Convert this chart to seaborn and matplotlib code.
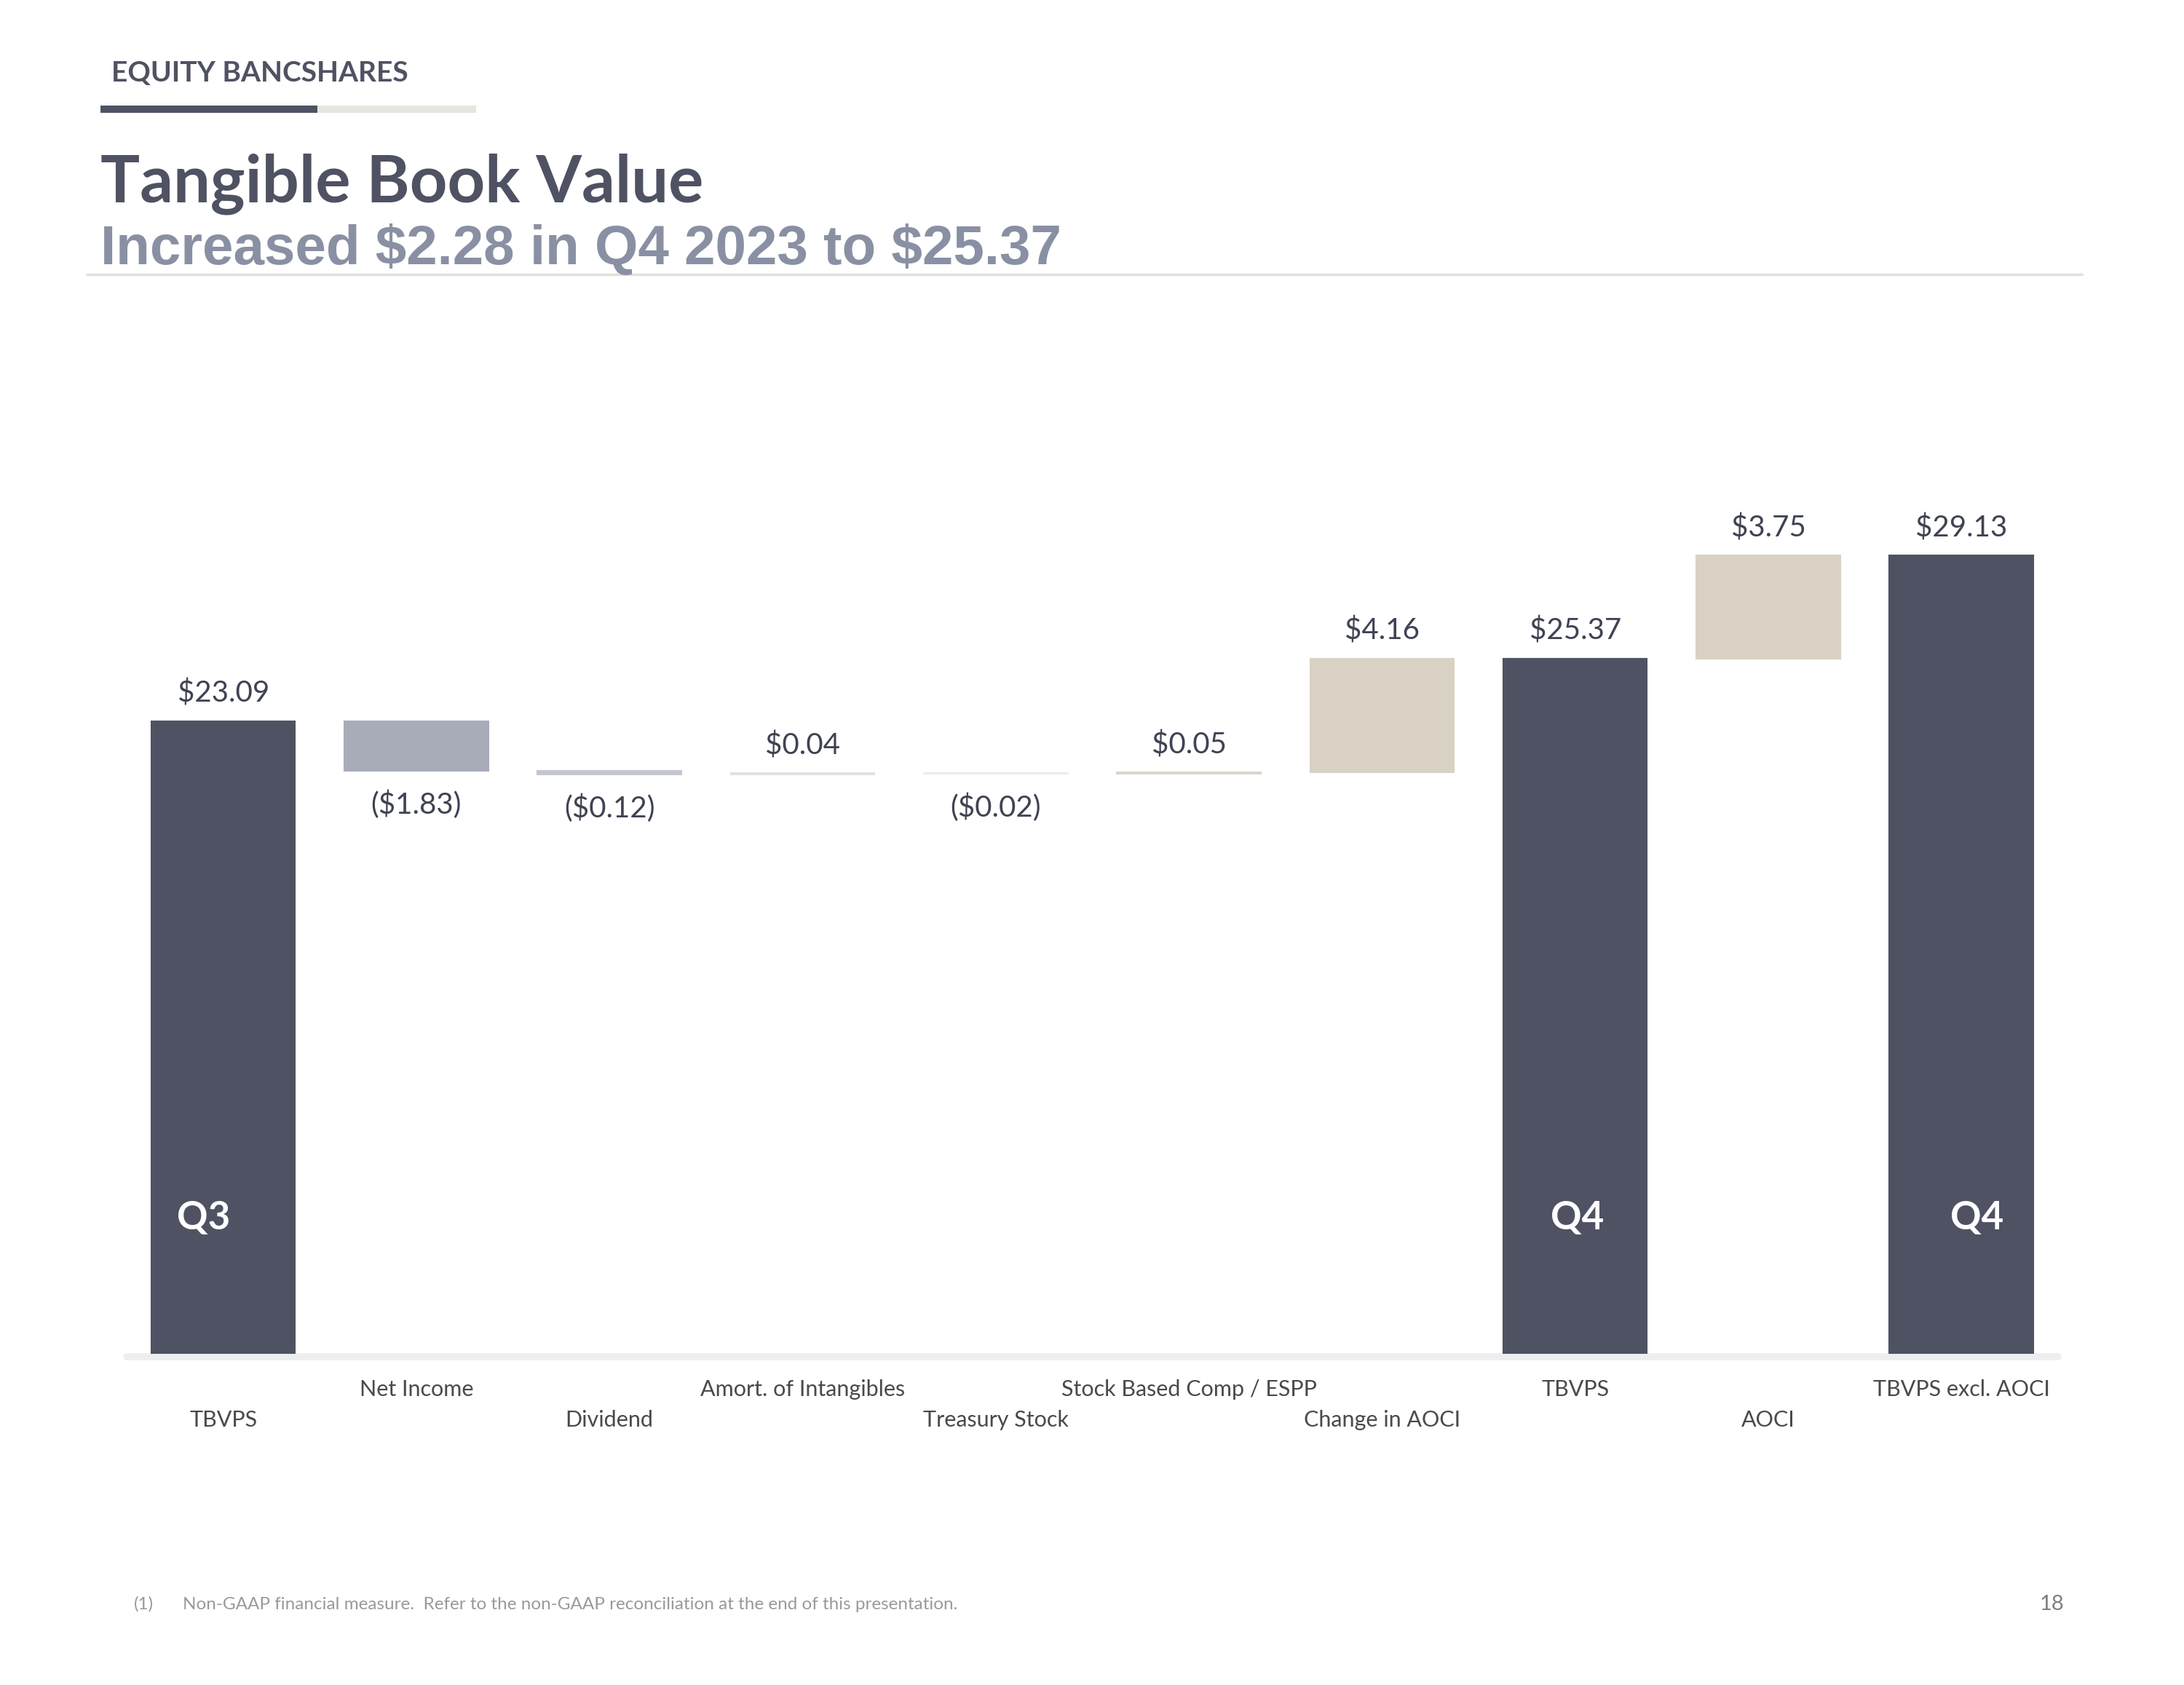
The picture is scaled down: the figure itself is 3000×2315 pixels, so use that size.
import matplotlib
matplotlib.use("Agg")
import matplotlib.pyplot as plt
from matplotlib.patches import Rectangle
from matplotlib.lines import Line2D
import seaborn as sns
import pandas as pd
import numpy as np

# ---------------- data ----------------
categories = ["TBVPS", "Net Income", "Dividend", "Amort. of Intangibles", "Treasury Stock",
              "Stock Based Comp / ESPP", "Change in AOCI", "TBVPS", "AOCI", "TBVPS excl. AOCI"]
values = [23.09, -1.83, -0.12, 0.04, -0.02, 0.05, 4.16, 25.37, 3.75, 29.13]
kinds = ["total", "delta", "delta", "delta", "delta", "delta", "delta", "total", "delta", "total"]
value_labels = ["\\$23.09", "(\\$1.83)", "(\\$0.12)", "\\$0.04", "(\\$0.02)", "\\$0.05", "\\$4.16",
                "\\$25.37", "\\$3.75", "\\$29.13"]
period_labels = ["Q3", "", "", "", "", "", "", "Q4", "", "Q4"]
bar_colors = ["#4E5262", "#A7ACB8", "#C3C7D1", "#E4E2DC", "#ECECEC", "#DCD5CA",
              "#D9D1C4", "#4E5262", "#D9D1C4", "#4E5262"]

# waterfall bottoms / tops
bottoms, tops = [], []
running = 0.0
for v, k in zip(values, kinds):
    if k == "total":
        bottoms.append(0.0)
        tops.append(v)
        running = v
    else:
        b = running
        running = running + v
        bottoms.append(min(b, running))
        tops.append(max(b, running))

df = pd.DataFrame({"idx": [str(i) for i in range(len(categories))],
                   "top": tops, "bottom": bottoms})

DARK = "#4E5262"
sns.set_theme(style="white")
plt.rcParams["font.family"] = ["Lato", "DejaVu Sans"]

fig = plt.figure(figsize=(30, 23.15), dpi=100)
fig.patch.set_facecolor("white")
ax = fig.add_axes([0.058, 0.1965, 0.8843, 0.5702])

sns.barplot(data=df, x="idx", y="top", hue="idx", palette=bar_colors, legend=False,
            width=0.745, ax=ax, saturation=1, dodge=False)

for p, b, t, c in zip(ax.patches, bottoms, tops, bar_colors):
    p.set_y(b)
    p.set_height(t - b)
    p.set_edgecolor(c)
    p.set_linewidth(1.5)
    p.set_zorder(3)

ax.set_xlim(-0.5, 9.5)
ax.set_ylim(0, 35.05)
for s in ax.spines.values():
    s.set_visible(False)
ax.set_yticks([])
ax.set_ylabel("")
ax.set_xlabel("")
ax.axhline(-0.11, color="#EDEEEF", lw=7, zorder=2, clip_on=False)

tick_text = [("\n" if i % 2 == 0 else "") + c for i, c in enumerate(categories)]
ax.set_xticks(range(len(categories)))
ax.set_xticklabels(tick_text, fontsize=22, color="#4A4A4A", linespacing=1.6)
ax.tick_params(axis="x", length=0, pad=25)

# value labels
for i, (v, b, t, lab) in enumerate(zip(values, bottoms, tops, value_labels)):
    if v >= 0:
        ax.annotate(lab, (i, t), xytext=(0, 38), textcoords="offset pixels",
                    ha="center", va="center", fontsize=29, color="#3F4352")
    else:
        ax.annotate(lab, (i, b), xytext=(0, -46), textcoords="offset pixels",
                    ha="center", va="center", fontsize=29, color="#3F4352")

# period labels inside total bars
q_offsets = [-0.1, 0, 0, 0, 0, 0, 0, 0.01, 0, 0.08]
for i, q in enumerate(period_labels):
    if q:
        ax.text(i + q_offsets[i], 4.95, q, ha="center", va="center", fontsize=38,
                fontweight="bold", color="white", zorder=5)

# ---------------- header ----------------
fig.text(0.051, 0.9564, "EQUITY BANCSHARES", fontsize=28, fontweight="bold",
         color=DARK, ha="left", va="center")
fig.add_artist(Rectangle((0.046, 0.9330), 0.0993, 0.0045, transform=fig.transFigure,
                         facecolor=DARK, edgecolor="none"))
fig.add_artist(Rectangle((0.1453, 0.9330), 0.0727, 0.0045, transform=fig.transFigure,
                         facecolor="#E6E5DF", edgecolor="none"))
fig.text(0.046, 0.8803, "Tangible Book Value", fontsize=65, fontweight="bold",
         color=DARK, ha="left", va="baseline")
fig.text(0.046, 0.8432, "Increased \\$2.28 in Q4 2023 to \\$25.37", fontsize=55,
         fontweight="bold", color="#8A90A3", ha="left", va="baseline",
         family=["Liberation Sans", "DejaVu Sans"])
fig.add_artist(Line2D([0.0397, 0.9533], [0.8371, 0.8371], transform=fig.transFigure,
                      color="#E3E1DA", lw=2.5))

# ---------------- footer ----------------
fig.text(0.0613, 0.0479, "(1)", fontsize=17.5, color="#9A9A9A", ha="left", va="center")
fig.text(0.0837, 0.0479,
         "Non-GAAP financial measure.  Refer to the non-GAAP reconciliation at the end of this presentation.",
         fontsize=17.5, color="#9A9A9A", ha="left", va="center")
fig.text(0.945, 0.0479, "18", fontsize=21, color="#7F7F7F", ha="right", va="center")

fig.savefig("out.png", dpi=100, facecolor="white")
